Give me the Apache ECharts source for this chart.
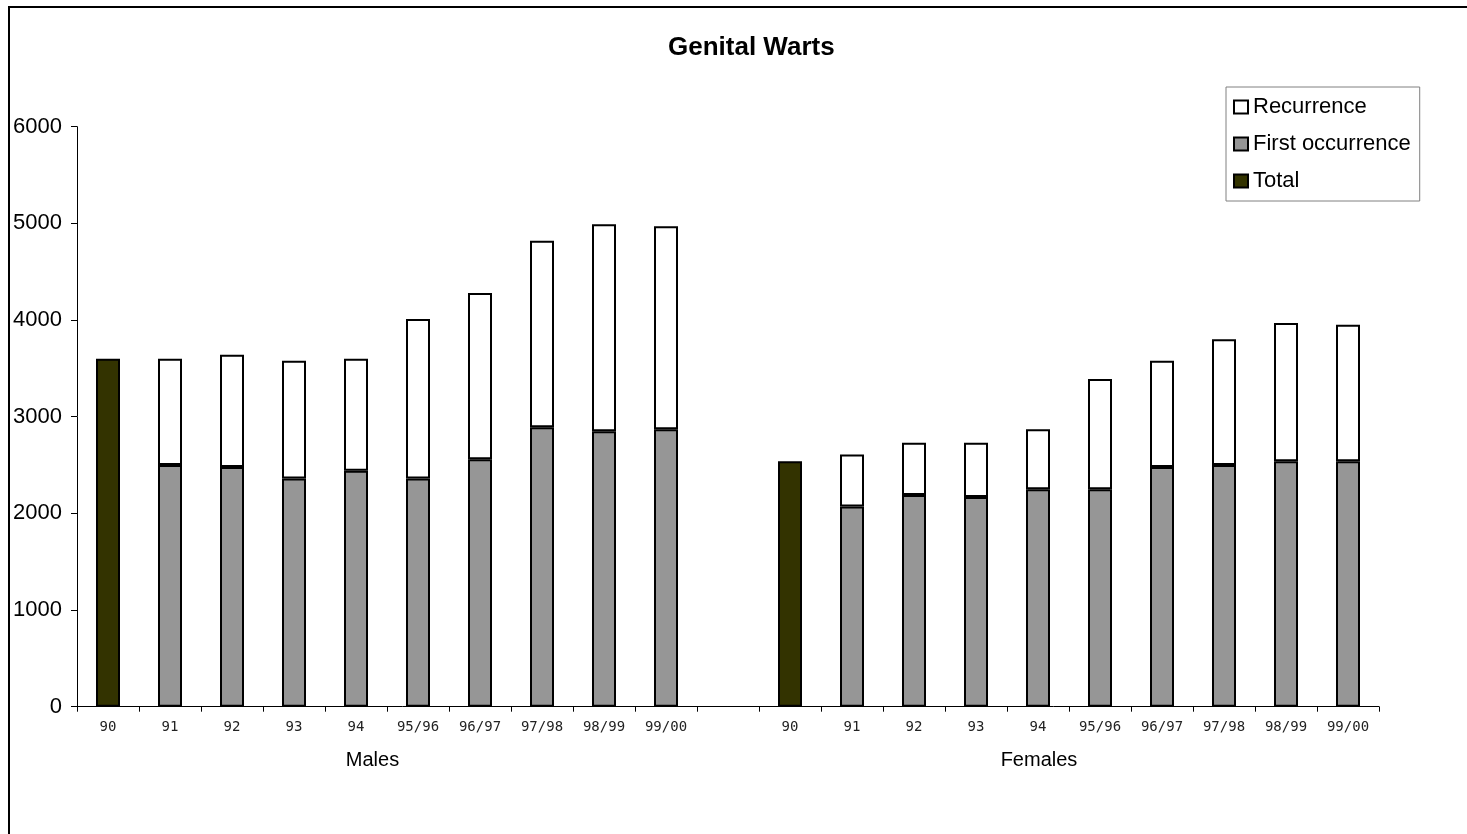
<!DOCTYPE html>
<html>
<head>
<meta charset="utf-8">
<script src="https://cdn.jsdelivr.net/npm/echarts@6/dist/echarts.min.js"></script>
<style>
html,body{margin:0;padding:0;background:#fff;}
#chart{width:1467px;height:834px;}
</style>
</head>
<body>
<div id="chart"></div>
<script>
// Category labels (blank slot separates Males and Females)
const categories = ['90','91','92','93','94','95/96','96/97','97/98','98/99','99/00','',
                    '90','91','92','93','94','95/96','96/97','97/98','98/99','99/00'];
const groupLabels = ['Males', 'Females'];
const yTicks = [0, 1000, 2000, 3000, 4000, 5000, 6000];

// Series values
const totalValues      = [3600, null, null, null, null, null, null, null, null, null, null,
                          2540, null, null, null, null, null, null, null, null, null];
const firstValues      = [null, 2500, 2480, 2360, 2440, 2360, 2560, 2890, 2850, 2870, null,
                          null, 2070, 2190, 2170, 2250, 2250, 2480, 2500, 2540, 2540];
const recurrenceValues = [null, 1100, 1160, 1220, 1160, 1650, 1720, 1930, 2140, 2100, null,
                          null,  540,  540,  560,  620, 1140, 1100, 1300, 1430, 1410];

const chart = echarts.init(document.getElementById('chart'), null, {renderer: 'canvas'});
const FONT = 'Liberation Sans, Arial, sans-serif';

const option = {
  backgroundColor: '#ffffff',
  animation: false,
  title: {
    text: 'Genital Warts',
    left: 663,
    top: 30,
    textStyle: {fontFamily: FONT, fontSize: 26, fontWeight: 'bold', color: '#000'}
  },
  legend: {
    orient: 'vertical',
    left: 1226,
    top: 87,
    padding: [9, 9, 9, 7],
    itemWidth: 14,
    itemHeight: 13,
    itemGap: 15,
    borderColor: '#808080',
    borderWidth: 1,
    icon: 'rect',
    data: ['Recurrence', 'First occurrence', 'Total'],
    textStyle: {fontFamily: FONT, fontSize: 22, color: '#000'}
  },
  grid: {left: 77, right: 88, top: 126.7, bottom: 127.3, containLabel: false},
  xAxis: {
    type: 'category',
    data: categories,
    boundaryGap: true,
    axisLine: {lineStyle: {color: '#000', width: 1}},
    axisTick: {show: true, interval: 0, length: 5, lineStyle: {color: '#000'}},
    axisLabel: {interval: 0, margin: 14, fontFamily: 'DejaVu Sans Mono, monospace', fontSize: 14, color: '#222'},
    splitLine: {show: false}
  },
  yAxis: {
    type: 'value',
    min: yTicks[0],
    max: yTicks[yTicks.length - 1],
    interval: 1000,
    axisLine: {show: true, lineStyle: {color: '#000', width: 1}},
    axisTick: {show: true, length: 6, lineStyle: {color: '#000'}},
    axisLabel: {margin: 15, fontFamily: FONT, fontSize: 22, color: '#000', formatter: function (v) { return String(v); }},
    splitLine: {show: false}
  },
  series: [
    {
      name: 'Total', type: 'bar', stack: 'a', data: totalValues, barWidth: 24,
      itemStyle: {color: '#333300', borderColor: '#000', borderWidth: 2}
    },
    {
      name: 'First occurrence', type: 'bar', stack: 'a', data: firstValues, barWidth: 24,
      itemStyle: {color: '#969696', borderColor: '#000', borderWidth: 2}
    },
    {
      name: 'Recurrence', type: 'bar', stack: 'a', data: recurrenceValues, barWidth: 24,
      itemStyle: {color: '#ffffff', borderColor: '#000', borderWidth: 2}
    }
  ],
  graphic: [
    {
      type: 'rect', silent: true, z: -1,
      shape: {x: 9, y: 7, width: 1500, height: 900},
      style: {fill: 'none', stroke: '#000', lineWidth: 2}
    },
    {
      type: 'text', x: 372.5, y: 760,
      style: {text: groupLabels[0], font: '20px ' + FONT, fill: '#000', textAlign: 'center', textVerticalAlign: 'middle'}
    },
    {
      type: 'text', x: 1039, y: 760,
      style: {text: groupLabels[1], font: '20px ' + FONT, fill: '#000', textAlign: 'center', textVerticalAlign: 'middle'}
    }
  ]
};
chart.setOption(option);
</script>
</body>
</html>
